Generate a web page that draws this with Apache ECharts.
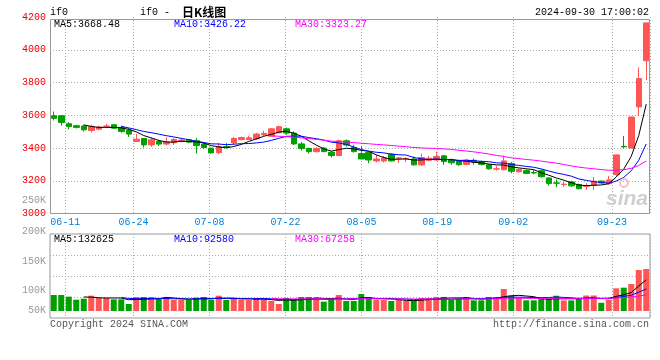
<!DOCTYPE html>
<html><head><meta charset="utf-8">
<script src="https://cdn.jsdelivr.net/npm/echarts@6/dist/echarts.min.js"></script>
<style>html,body{margin:0;padding:0;background:#fff}#c{width:660px;height:360px}</style>
</head><body><div id="c"></div>
<script>
const dates = ['06-06','06-07','06-11','06-12','06-13','06-14','06-17','06-18','06-19','06-20','06-21','06-24','06-25','06-26','06-27','06-28','07-01','07-02','07-03','07-04','07-05','07-08','07-09','07-10','07-11','07-12','07-15','07-16','07-17','07-18','07-19','07-22','07-23','07-24','07-25','07-26','07-29','07-30','07-31','08-01','08-02','08-05','08-06','08-07','08-08','08-09','08-12','08-13','08-14','08-15','08-16','08-19','08-20','08-21','08-22','08-23','08-26','08-27','08-28','08-29','08-30','09-02','09-03','09-04','09-05','09-06','09-09','09-10','09-11','09-12','09-13','09-18','09-19','09-20','09-23','09-24','09-25','09-26','09-27','09-30'];
const tickDates = ['06-11','06-24','07-08','07-22','08-05','08-19','09-02','09-23'];
const opens = [3597,3597,3548,3536,3534,3507,3515,3532,3542,3526,3509,3440,3458,3419,3440,3424,3432,3440,3450,3444,3424,3399,3372,3409,3432,3452,3452,3456,3481,3472,3493,3517,3491,3425,3397,3378,3399,3374,3354,3444,3403,3366,3372,3321,3321,3362,3337,3333,3333,3297,3325,3327,3352,3326,3319,3300,3325,3316,3297,3271,3267,3305,3255,3262,3250,3261,3217,3187,3177,3193,3177,3166,3171,3198,3182,3238,3410,3400,3651,3933];
const closes = [3581,3556,3532,3526,3511,3532,3528,3534,3521,3501,3485,3454,3419,3450,3424,3436,3452,3448,3436,3415,3403,3370,3409,3407,3458,3464,3462,3485,3489,3517,3530,3491,3425,3397,3378,3397,3378,3354,3444,3419,3378,3333,3327,3333,3339,3321,3339,3335,3297,3342,3337,3348,3317,3310,3298,3326,3313,3300,3273,3273,3321,3258,3268,3245,3248,3225,3183,3185,3179,3169,3151,3168,3197,3187,3205,3358,3407,3589,3824,4164];
const lows = [3568,3537,3513,3519,3501,3495,3509,3521,3517,3493,3468,3440,3403,3407,3413,3415,3419,3434,3430,3366,3393,3366,3362,3399,3419,3446,3450,3448,3474,3472,3489,3481,3419,3385,3366,3372,3374,3342,3354,3409,3372,3331,3307,3313,3311,3317,3309,3315,3292,3290,3319,3321,3297,3297,3291,3295,3299,3293,3268,3262,3266,3246,3250,3240,3240,3219,3170,3160,3164,3162,3148,3144,3144,3181,3177,3226,3400,3398,3596,3814];
const highs = [3623,3599,3558,3542,3542,3542,3536,3548,3546,3536,3521,3485,3458,3464,3450,3464,3460,3460,3454,3460,3436,3403,3430,3430,3468,3470,3474,3493,3505,3521,3536,3525,3501,3436,3403,3405,3405,3378,3452,3452,3419,3413,3378,3358,3352,3368,3344,3344,3348,3366,3352,3378,3358,3332,3328,3334,3336,3323,3303,3291,3354,3315,3276,3270,3266,3270,3221,3209,3199,3199,3183,3185,3223,3201,3230,3360,3474,3592,3892,4164];
const volumes = [68100,68100,61000,48200,52500,65200,55300,55300,49600,49600,29800,59600,59600,59600,51000,59600,46800,46800,46800,56700,59600,46800,65200,46800,55300,46800,46800,55300,51000,42600,29800,55300,51000,59600,59600,55300,39700,51000,68100,42600,42600,72300,58200,46800,46800,42600,46800,42600,42600,55300,55000,60000,60000,46800,55300,59600,45400,45400,59600,59600,93600,65200,55300,45400,45400,52000,52000,65000,45000,45000,56000,66000,66000,35000,48000,96500,99300,114900,174500,178700];
const priceTicks = ['4200','4000','3800','3600','3400','3200','3000'];
const volLabels = ['250K','200K','150K','100K','50K'];

const RED = '#ff5555', GREEN = '#00a000';
const FONT = '"Liberation Mono","DejaVu Sans Mono",monospace';
function ma(arr, n) {
  return arr.map((v, i) => {
    if (i < n - 1) return '-';
    let s = 0; for (let k = i - n + 1; k <= i; k++) s += arr[k];
    return +(s / n).toFixed(2);
  });
}
const kdata = opens.map((o, i) => [o, closes[i], lows[i], highs[i]]);
const vdata = volumes.map((v, i) => ({ value: v, itemStyle: { color: closes[i] >= opens[i] ? RED : GREEN } }));
const slots = dates.slice(0, dates.length - 1);
const tickFn = (idx, val) => tickDates.indexOf(val) >= 0;
const dot = { type: [1, 2], color: '#aaaaaa', width: 1 };

function txt(x, y, text, fill, align, font) {
  return { type: 'text', x: x, y: y, silent: true, z: 100,
    style: { text: text, fill: fill, font: font || ('10px ' + FONT), align: align || 'left', verticalAlign: 'middle', textAlign: align || 'left', textVerticalAlign: 'middle' } };
}
const volY = [200, 231, 261, 290, 310];
const graphics = [
  { type: 'rect', silent: true, z: 50, shape: { x: 50.5, y: 19.5, width: 599, height: 194 }, style: { fill: 'none', stroke: '#999', lineWidth: 1 } },
  txt(50, 12, 'if0', '#000'),
  txt(140, 12, 'if0 -', '#000'),
  txt(182, 12, '日K线图', '#000', 'left', 'bold 12px "Noto Sans CJK SC"'),
  txt(649, 12, '2024-09-30 17:00:02', '#000', 'right'),
  txt(54, 24, 'MA5:3668.48', '#000'),
  txt(174, 24, 'MA10:3426.22', '#0000ff'),
  txt(295, 24, 'MA30:3323.27', '#ff00ff'),
  txt(54, 239, 'MA5:132625', '#000'),
  txt(174, 239, 'MA10:92580', '#0000ff'),
  txt(295, 239, 'MA30:67258', '#ff00ff'),
  txt(50, 324, 'Copyright 2024 SINA.COM', '#555'),
  txt(649, 324, 'http://finance.sina.com.cn', '#555', 'right'),
  { type: 'rect', silent: true, z: 60, shape: { x: 643, y: 24, width: 6, height: 6 }, style: { fill: RED } },
  txt(648, 199, 'sina', '#cfcfcf', 'right', 'italic bold 21px "Liberation Sans"'),
  { type: 'circle', silent: true, z: 60, shape: { cx: 624, cy: 183, r: 4 }, style: { fill: 'none', stroke: '#f5c0c0', lineWidth: 2 } }
];
volLabels.forEach((t, i) => graphics.push(txt(46, volY[i], t, '#999', 'right')));

const chart = echarts.init(document.getElementById('c'), null, { renderer: 'canvas' });
chart.setOption({
  animation: false,
  backgroundColor: '#fff',
  grid: [
    { left: 50, top: 17, width: 600, height: 196.5, show: false },
    { left: 50, top: 234, width: 600, height: 84, show: true, borderColor: '#999', borderWidth: 1, backgroundColor: 'transparent' }
  ],
  xAxis: [
    { type: 'category', gridIndex: 0, data: dates, boundaryGap: true, axisLine: { show: false }, axisTick: { show: false }, axisLabel: { show: false }, splitLine: { show: false } },
    { type: 'category', gridIndex: 0, data: slots, boundaryGap: true, position: 'bottom', axisLine: { show: false }, axisTick: { show: false },
      axisLabel: { show: true, interval: tickFn, color: '#0082d8', fontFamily: FONT, fontSize: 10, margin: 4, padding: [0, 7.6, 0, 0] },
      splitLine: { show: true, interval: tickFn, lineStyle: dot } },
    { type: 'category', gridIndex: 1, data: dates, boundaryGap: true, axisLine: { show: false }, axisTick: { show: false }, axisLabel: { show: false }, splitLine: { show: false } },
    { type: 'category', gridIndex: 1, data: slots, boundaryGap: true, axisLine: { show: false }, axisTick: { show: false }, axisLabel: { show: false },
      splitLine: { show: true, interval: tickFn, lineStyle: dot } }
  ],
  yAxis: [
    { type: 'value', gridIndex: 0, min: 3000, max: 4200, interval: 200, axisLine: { show: false }, axisTick: { show: false },
      axisLabel: { color: '#ee0000', fontFamily: FONT, fontSize: 10, margin: 4,
        formatter: v => { const s = String(Math.round(v)); return priceTicks.indexOf(s) >= 0 ? s : ''; } },
      splitLine: { show: true, showMinLine: false, showMaxLine: false, lineStyle: dot } },
    { type: 'value', gridIndex: 1, min: 0, max: 4, interval: 1, axisLine: { show: false }, axisTick: { show: false }, axisLabel: { show: false },
      splitLine: { show: true, showMinLine: false, showMaxLine: false, lineStyle: dot } },
    { type: 'value', gridIndex: 1, min: -29800, max: 327700, axisLine: { show: false }, axisTick: { show: false }, axisLabel: { show: false }, splitLine: { show: false } }
  ],
  graphic: graphics,
  series: [
    { type: 'candlestick', xAxisIndex: 0, yAxisIndex: 0, data: kdata, barWidth: 6,
      itemStyle: { color: RED, color0: GREEN, borderColor: RED, borderColor0: GREEN, borderWidth: 1 } },
    { type: 'line', xAxisIndex: 0, yAxisIndex: 0, data: ma(closes, 5), symbol: 'none', lineStyle: { color: '#000', width: 1 }, z: 5 },
    { type: 'line', xAxisIndex: 0, yAxisIndex: 0, data: ma(closes, 10), symbol: 'none', lineStyle: { color: '#0000ff', width: 1 }, z: 5 },
    { type: 'line', xAxisIndex: 0, yAxisIndex: 0, data: ma(closes, 30), symbol: 'none', lineStyle: { color: '#ff00ff', width: 1 }, z: 5 },
    { type: 'bar', xAxisIndex: 2, yAxisIndex: 2, data: vdata, barWidth: 6 },
    { type: 'line', xAxisIndex: 2, yAxisIndex: 2, data: ma(volumes, 5), symbol: 'none', lineStyle: { color: '#000', width: 1 }, z: 5 },
    { type: 'line', xAxisIndex: 2, yAxisIndex: 2, data: ma(volumes, 10), symbol: 'none', lineStyle: { color: '#0000ff', width: 1 }, z: 5 },
    { type: 'line', xAxisIndex: 2, yAxisIndex: 2, data: ma(volumes, 30), symbol: 'none', lineStyle: { color: '#ff00ff', width: 1 }, z: 5 }
  ]
});
</script></body></html>
